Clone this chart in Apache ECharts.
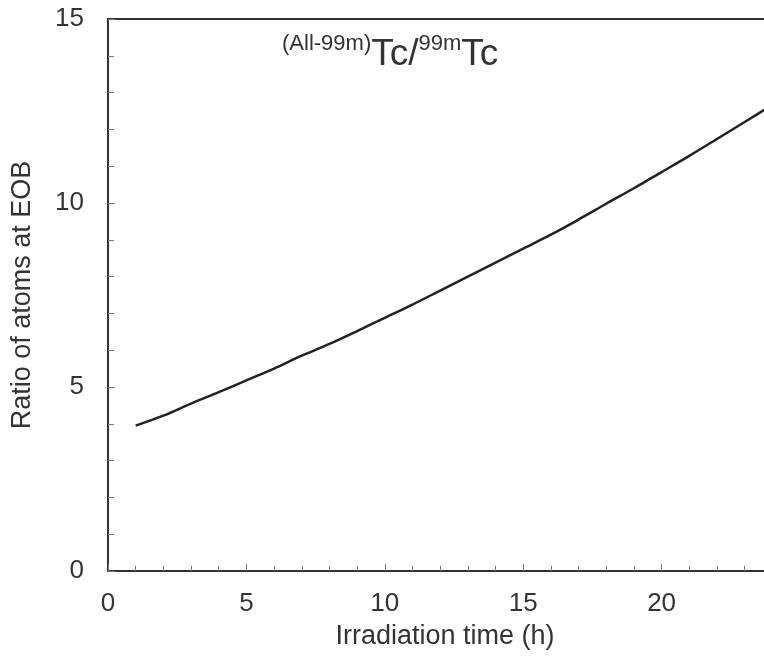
<!DOCTYPE html>
<html>
<head>
<meta charset="utf-8">
<title>Tc ratio</title>
<script src="https://cdn.jsdelivr.net/npm/echarts@6/dist/echarts.min.js"></script>
<style>
    html, body { margin: 0; padding: 0; background: #fff; }
    #chart { width: 764px; height: 659px; }
</style>
</head>
<body>
<div id="chart"></div>
<script>
// irradiation time (h)
var hours = [1, 2, 3, 4, 5, 6, 7, 8, 9, 10, 11, 12, 13, 14, 15, 16, 17, 18, 19, 20, 21, 22, 23, 24];
// ratio of atoms (All-99m)Tc / 99mTc at EOB
var ratio = [3.95, 4.22, 4.55, 4.86, 5.18, 5.50, 5.85, 6.17, 6.52, 6.88, 7.24, 7.62,
             8.00, 8.38, 8.76, 9.14, 9.55, 9.98, 10.40, 10.84, 11.28, 11.74, 12.20, 12.67];
var xTicks = [0, 5, 10, 15, 20, 25];
var yTicks = [0, 5, 10, 15];

var points = hours.map(function (h, i) { return [h, ratio[i]]; });

var font = '"Liberation Sans", Arial, sans-serif';
var ink = '#333';

var chartDom = document.getElementById('chart');
var chart = echarts.init(chartDom);

// the original figure is cropped on the right, so the plot runs past the canvas edge
var option = {
    animation: false,
    backgroundColor: '#fff',
    grid: {
        left: 108,
        top: 19,
        bottom: 88,
        width: 692,
        outerBoundsMode: 'none',
        containLabel: false,
        show: true,
        borderColor: ink,
        borderWidth: 2
    },
    xAxis: {
        type: 'value',
        min: xTicks[0],
        max: xTicks[xTicks.length - 1],
        interval: 5,
        name: 'Irradiation time (h)',
        nameLocation: 'middle',
        nameGap: 52,
        nameTextStyle: { fontFamily: font, fontSize: 27, color: ink, padding: [0, 18, 0, 0] },
        axisLine: { lineStyle: { color: ink, width: 2 } },
        axisTick: { inside: true, length: 7, lineStyle: { color: '#777', width: 1 } },
        minorTick: { show: true, splitNumber: 5, length: 5, lineStyle: { color: '#777', width: 1 } },
        splitLine: { show: false },
        axisLabel: { fontFamily: font, fontSize: 26, color: ink, margin: 20 }
    },
    yAxis: {
        type: 'value',
        min: yTicks[0],
        max: yTicks[yTicks.length - 1],
        interval: 5,
        name: 'Ratio of atoms at EOB',
        nameLocation: 'middle',
        nameGap: 72,
        nameTextStyle: { fontFamily: font, fontSize: 27, color: ink },
        axisLine: { lineStyle: { color: ink, width: 2 } },
        axisTick: { inside: true, length: 7, lineStyle: { color: '#777', width: 1 } },
        minorTick: { show: true, splitNumber: 5, length: 6, lineStyle: { color: '#777', width: 1 } },
        splitLine: { show: false },
        axisLabel: { fontFamily: font, fontSize: 26, color: ink, margin: 24 }
    },
    graphic: [{
        type: 'text',
        left: 282,
        top: 33,
        style: {
            text: '{s|(All-99m)}{b|Tc/}{s|99m}{b|Tc}',
            fontFamily: font,
            fill: ink,
            rich: {
                s: { fontFamily: font, fontSize: 22, lineHeight: 40, verticalAlign: 'top', fill: ink },
                b: { fontFamily: font, fontSize: 37, lineHeight: 40, verticalAlign: 'bottom', fill: ink }
            }
        }
    }],
    series: [{
        name: '(All-99m)Tc/99mTc',
        type: 'line',
        data: points,
        showSymbol: false,
        smooth: 0.3,
        lineStyle: { color: '#222', width: 2.5 },
        clip: true
    }]
};

chart.setOption(option);
</script>
</body>
</html>
